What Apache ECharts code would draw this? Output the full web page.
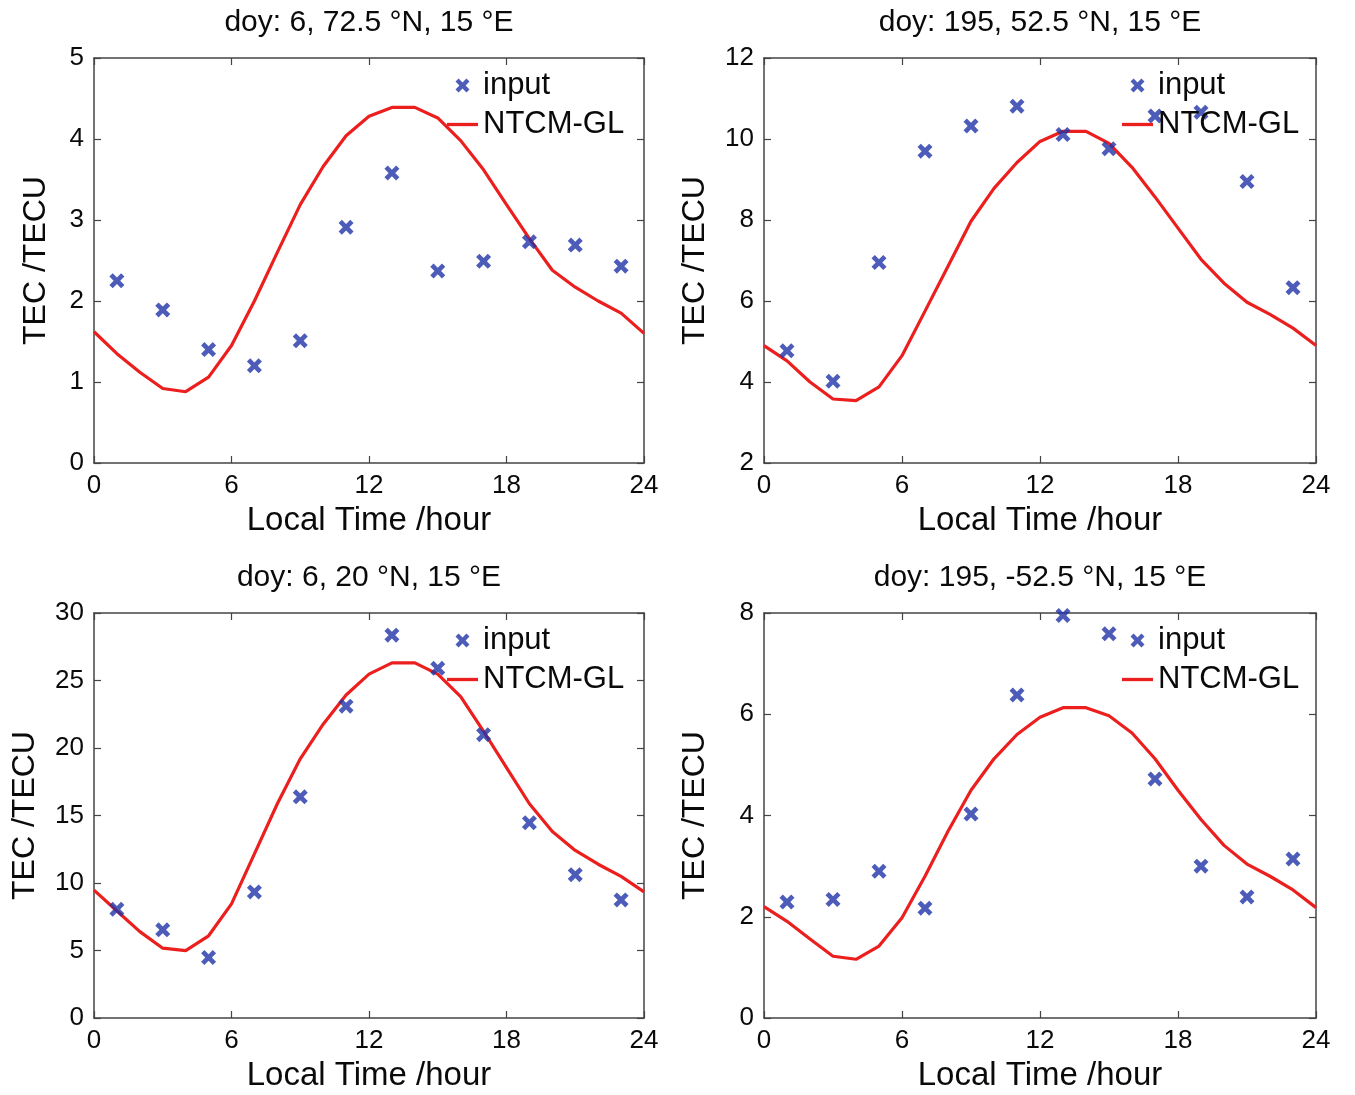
<!DOCTYPE html>
<html>
<head>
<meta charset="utf-8">
<script src="https://cdn.jsdelivr.net/npm/echarts@6/dist/echarts.min.js"></script>
<style>
html,body{margin:0;padding:0;background:#fff;}
#chart{width:1355px;height:1095px;}
</style>
</head>
<body>
<div id="chart"></div>
<script>
// ---- data ----
const inputHours = [1,3,5,7,9,11,13,15,17,19,21,23];
const modelHours = [0,1,2,3,4,5,6,7,8,9,10,11,12,13,14,15,16,17,18,19,20,21,22,23,24];
const xTicks = [0,6,12,18,24];

const titles = [
  'doy: 6, 72.5 \u00b0N, 15 \u00b0E',
  'doy: 195, 52.5 \u00b0N, 15 \u00b0E',
  'doy: 6, 20 \u00b0N, 15 \u00b0E',
  'doy: 195, -52.5 \u00b0N, 15 \u00b0E'
];

const p1Input = [2.25,1.89,1.40,1.20,1.51,2.91,3.58,2.37,2.49,2.73,2.69,2.43];
const p1Model = [1.62,1.35,1.12,0.92,0.88,1.06,1.45,2.00,2.60,3.19,3.66,4.04,4.28,4.39,4.39,4.26,3.98,3.62,3.19,2.77,2.38,2.17,2.00,1.85,1.60];

const p2Input = [4.77,4.02,6.95,9.70,10.32,10.81,10.11,9.76,10.57,10.66,8.95,6.33];
const p2Model = [4.90,4.52,4.00,3.58,3.54,3.88,4.65,5.75,6.86,7.97,8.78,9.42,9.94,10.19,10.19,9.89,9.30,8.57,7.80,7.03,6.44,5.97,5.67,5.33,4.90];

const p3Input = [8.06,6.53,4.48,9.34,16.38,23.10,28.36,25.90,20.99,14.46,10.62,8.75];
const p3Model = [9.47,7.93,6.40,5.17,4.99,6.09,8.45,12.16,15.87,19.20,21.76,23.93,25.47,26.31,26.31,25.47,23.80,21.24,18.55,15.87,13.82,12.41,11.39,10.49,9.34];

const p4Input = [2.29,2.34,2.90,2.17,4.03,6.38,7.95,7.59,4.72,3.00,2.39,3.14];
const p4Model = [2.20,1.91,1.56,1.22,1.16,1.42,1.98,2.80,3.69,4.50,5.12,5.60,5.94,6.13,6.13,5.97,5.63,5.12,4.50,3.92,3.41,3.04,2.80,2.53,2.18];

const yRanges = [[0,5,1],[2,12,2],[0,30,5],[0,8,2]];
const inputs = [p1Input,p2Input,p3Input,p4Input];
const models = [p1Model,p2Model,p3Model,p4Model];

// ---- layout / style ----
const FONT = '"Liberation Sans", Arial, Helvetica, sans-serif';
const grids = [
  {left:94, top:58, width:550, height:405},
  {left:764, top:58, width:552, height:405},
  {left:94, top:613, width:550, height:405},
  {left:764, top:613, width:552, height:405}
];
const yNameGaps = [42,53,53,53];
const legendPos = [
  {left:447, top:70},
  {left:1122, top:70},
  {left:447, top:625},
  {left:1122, top:625}
];
const XPATH = 'path://M0,2.2L2.2,0L5,2.8L7.8,0L10,2.2L7.2,5L10,7.8L7.8,10L5,7.2L2.2,10L0,7.8L2.8,5Z';
const LINEPATH = 'path://M0,0L30,0L30,3.2L0,3.2Z';
const BLUE = '#1f33a6';
const RED = '#ec1f1f';
const AX = '#444';
const TXT = '#0a0a0a';

const xAxis = [], yAxis = [], series = [], legend = [];
grids.forEach((g, i) => {
  const base = {
    gridIndex: i, type: 'value', min: 0, max: 24, interval: 6,
    axisLine: {show: true, onZero: false, lineStyle: {color: AX, width: 1.5}},
    axisTick: {show: true, inside: true, length: 7, lineStyle: {color: AX, width: 1.2}},
    splitLine: {show: false}
  };
  xAxis.push(Object.assign({}, base, {
    position: 'bottom',
    name: 'Local Time /hour', nameLocation: 'middle', nameGap: 41,
    nameTextStyle: {fontFamily: FONT, fontSize: 33, color: TXT},
    axisLabel: {show: true, margin: 10, fontFamily: FONT, fontSize: 26, color: TXT,
      customValues: xTicks}
  }));
  xAxis.push(Object.assign({}, base, {
    position: 'top',
    name: titles[i], nameLocation: 'middle', nameGap: 20,
    nameTextStyle: {fontFamily: FONT, fontSize: 30, color: TXT},
    axisLabel: {show: false}
  }));
  const r = yRanges[i];
  const ybase = {
    gridIndex: i, type: 'value', min: r[0], max: r[1], interval: r[2],
    axisLine: {show: true, onZero: false, lineStyle: {color: AX, width: 1.5}},
    axisTick: {show: true, inside: true, length: 7, lineStyle: {color: AX, width: 1.2}},
    splitLine: {show: false}
  };
  yAxis.push(Object.assign({}, ybase, {
    position: 'left',
    name: 'TEC /TECU', nameLocation: 'middle', nameGap: yNameGaps[i],
    nameTextStyle: {fontFamily: FONT, fontSize: 32, color: TXT},
    axisLabel: {show: true, margin: 10, fontFamily: FONT, fontSize: 26, color: TXT}
  }));
  yAxis.push(Object.assign({}, ybase, {position: 'right', axisLabel: {show: false}}));

  series.push({
    name: 'NTCM-GL', type: 'line', xAxisIndex: 2*i, yAxisIndex: 2*i,
    data: modelHours.map((h, k) => [h, models[i][k]]),
    showSymbol: false, symbol: 'none', smooth: false,
    lineStyle: {color: RED, width: 3.2}, itemStyle: {color: RED},
    z: 2, silent: true, animation: false
  });
  series.push({
    name: 'input', type: 'scatter', xAxisIndex: 2*i, yAxisIndex: 2*i,
    data: inputHours.map((h, k) => [h, inputs[i][k]]),
    symbol: XPATH, symbolSize: 15,
    itemStyle: {color: BLUE}, z: 3, silent: true, animation: false
  });
  legend.push({
    left: legendPos[i].left, top: legendPos[i].top, orient: 'vertical',
    itemWidth: 31, itemHeight: 14, itemGap: 8, selectedMode: false,
    data: [{name: 'input', icon: XPATH}, {name: 'NTCM-GL', icon: LINEPATH}],
    textStyle: {fontFamily: FONT, fontSize: 31, color: TXT, lineHeight: 30},
    padding: 0
  });
});

const chart = echarts.init(document.getElementById('chart'), null, {renderer: 'canvas'});
chart.setOption({
  animation: false,
  backgroundColor: '#fff',
  grid: grids,
  xAxis: xAxis,
  yAxis: yAxis,
  legend: legend,
  series: series
});
</script>
</body>
</html>
